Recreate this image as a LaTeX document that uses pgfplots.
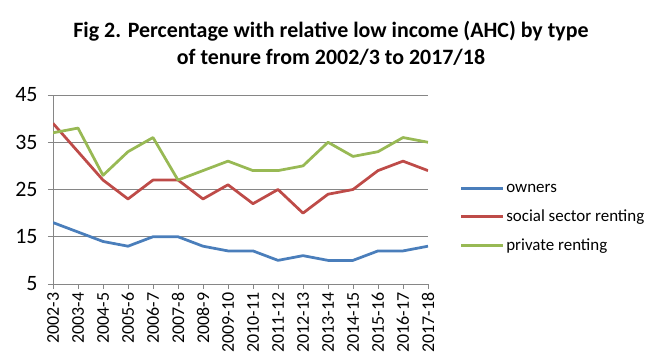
\documentclass[border=0pt]{standalone}
\usepackage{pgfplots}
\pgfplotsset{compat=1.18}
\usepackage{fontspec}
\setmainfont{Carlito}
\definecolor{cblue}{HTML}{4A7EBB}
\definecolor{cred}{HTML}{BE4B48}
\definecolor{cgreen}{HTML}{98B954}
\definecolor{cgrid}{HTML}{868686}
\begin{document}
\begin{tikzpicture}
\useasboundingbox (0,0) rectangle (663bp,364bp);
\node[align=center, font=\fontsize{22}{27}\selectfont\bfseries] at (331bp,320.5bp)
  {Fig 2. Percentage with relative low income (AHC) by type\\of tenure from 2002/3 to 2017/18};
\begin{axis}[
  at={(53bp,80bp)}, anchor=south west,
  scale only axis, width=375bp, height=189bp,
  xmin=0, xmax=15, ymin=5, ymax=45,
  ytick={5,15,25,35,45},
  xtick={0,...,15},
  xticklabels={2002-3,2003-4,2004-5,2005-6,2006-7,2007-8,2008-9,2009-10,2010-11,2011-12,2012-13,2013-14,2014-15,2015-16,2016-17,2017-18},
  /pgf/number format/assume math mode=true,
  x tick label style={rotate=90, anchor=east, font=\fontsize{18}{18}\selectfont},
  y tick label style={font=\fontsize{22}{22}\selectfont, xshift=-7bp},
  axis x line*=bottom, axis y line*=left,
  axis line style={-, cgrid, line width=0.75bp},
  ymajorgrids, grid style={cgrid, line width=0.75bp},
  major tick style={cgrid, line width=0.75bp},
  tick align=outside, major tick length=5bp,
  legend style={at={(1.085,0.349)}, anchor=west, draw=none, fill=none,
    font=\fontsize{17}{17}\selectfont, row sep=13bp, inner sep=0pt,
    nodes={inner sep=1.5bp}},
  legend cell align=left,
  legend image code/.code={\draw[#1] (0bp,0bp) -- (42bp,0bp);},
  every axis plot/.append style={line width=2.75bp, line join=round, no marks},
]
\addplot[cblue] coordinates {(0,18)(1,16)(2,14)(3,13)(4,15)(5,15)(6,13)(7,12)(8,12)(9,10)(10,11)(11,10)(12,10)(13,12)(14,12)(15,13)};
\addlegendentry{owners}
\addplot[cred] coordinates {(0,39)(1,33)(2,27)(3,23)(4,27)(5,27)(6,23)(7,26)(8,22)(9,25)(10,20)(11,24)(12,25)(13,29)(14,31)(15,29)};
\addlegendentry{social sector renting}
\addplot[cgreen] coordinates {(0,37)(1,38)(2,28)(3,33)(4,36)(5,27)(6,29)(7,31)(8,29)(9,29)(10,30)(11,35)(12,32)(13,33)(14,36)(15,35)};
\addlegendentry{private renting}
\end{axis}
\end{tikzpicture}
\end{document}
